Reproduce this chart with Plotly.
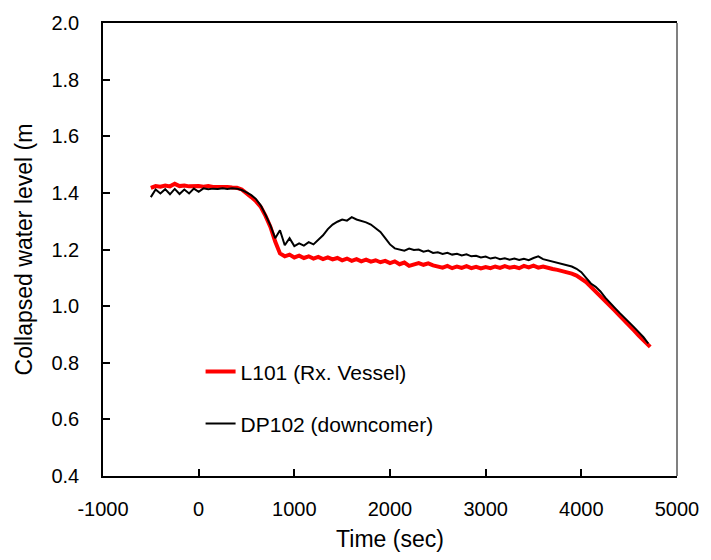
import plotly.graph_objects as go

time_sec = [-500, -450, -400, -350, -300, -250, -200, -150, -100, -50,
            0, 50, 100, 150, 200, 250, 300, 350, 400, 450,
            500, 550, 600, 650, 700, 750, 800, 850, 900, 950,
            1000, 1050, 1100, 1150, 1200, 1250, 1300, 1350, 1400, 1450,
            1500, 1550, 1600, 1650, 1700, 1750, 1800, 1850, 1900, 1950,
            2000, 2050, 2100, 2150, 2200, 2250, 2300, 2350, 2400, 2450,
            2500, 2550, 2600, 2650, 2700, 2750, 2800, 2850, 2900, 2950,
            3000, 3050, 3100, 3150, 3200, 3250, 3300, 3350, 3400, 3450,
            3500, 3550, 3600, 3650, 3700, 3750, 3800, 3850, 3900, 3950,
            4000, 4050, 4100, 4150, 4200, 4250, 4300, 4350, 4400, 4450,
            4500, 4550, 4600, 4650, 4700]

time_red = time_sec + [4720]

l101 = [1.418, 1.424, 1.422, 1.426, 1.423, 1.432, 1.424, 1.426, 1.423, 1.425,
        1.424, 1.422, 1.424, 1.421, 1.422, 1.420, 1.421, 1.419, 1.418, 1.412,
        1.400, 1.385, 1.370, 1.350, 1.318, 1.280, 1.228, 1.186, 1.176, 1.182,
        1.172, 1.178, 1.170, 1.176, 1.168, 1.174, 1.166, 1.172, 1.165, 1.170,
        1.162, 1.168, 1.160, 1.166, 1.158, 1.164, 1.157, 1.162, 1.155, 1.160,
        1.152, 1.158, 1.148, 1.154, 1.142, 1.148, 1.152, 1.146, 1.151, 1.144,
        1.140, 1.136, 1.142, 1.134, 1.140, 1.135, 1.141, 1.134, 1.139, 1.133,
        1.138, 1.134, 1.140, 1.135, 1.141, 1.136, 1.139, 1.134, 1.142, 1.137,
        1.143, 1.136, 1.140, 1.134, 1.131, 1.128, 1.124, 1.120, 1.115, 1.108,
        1.098, 1.085, 1.068, 1.052, 1.034, 1.018, 1.000, 0.984, 0.966, 0.950,
        0.932, 0.914, 0.896, 0.880, 0.864, 0.856]

dp102 = [1.385, 1.412, 1.398, 1.413, 1.395, 1.414, 1.396, 1.412, 1.398, 1.415,
         1.404, 1.416, 1.413, 1.415, 1.414, 1.416, 1.414, 1.416, 1.415, 1.410,
         1.402, 1.392, 1.378, 1.355, 1.322, 1.285, 1.240, 1.268, 1.215, 1.240,
         1.212, 1.222, 1.214, 1.226, 1.218, 1.235, 1.250, 1.272, 1.288, 1.298,
         1.306, 1.302, 1.314, 1.306, 1.302, 1.296, 1.288, 1.276, 1.262, 1.240,
         1.218, 1.204, 1.200, 1.196, 1.203, 1.198, 1.200, 1.192, 1.196, 1.188,
         1.190, 1.184, 1.188, 1.182, 1.185, 1.179, 1.183, 1.176, 1.178, 1.172,
         1.175, 1.168, 1.172, 1.166, 1.169, 1.164, 1.168, 1.163, 1.167, 1.162,
         1.170, 1.176, 1.166, 1.162, 1.158, 1.154, 1.150, 1.145, 1.140, 1.132,
         1.120, 1.100, 1.080, 1.068, 1.052, 1.030, 1.010, 0.994, 0.976, 0.960,
         0.942, 0.926, 0.908, 0.890, 0.868]

x_ticks = [-1000, 0, 1000, 2000, 3000, 4000, 5000]
y_ticks = [0.4, 0.6, 0.8, 1.0, 1.2, 1.4, 1.6, 1.8, 2.0]

FONT = "Liberation Sans, Arial, sans-serif"

fig = go.Figure()
fig.add_trace(go.Scatter(x=time_red, y=l101, mode="lines",
                         name="L101 (Rx. Vessel)",
                         line=dict(color="#ff0000", width=4),
                         legend="legend"))
fig.add_trace(go.Scatter(x=time_sec, y=dp102, mode="lines",
                         name="DP102 (downcomer)",
                         line=dict(color="#000000", width=2),
                         legend="legend2"))

leg_common = dict(font=dict(family=FONT, size=21, color="#000"),
                  bgcolor="rgba(0,0,0,0)", borderwidth=0,
                  xanchor="left", yanchor="middle")

fig.update_layout(
    width=711, height=560,
    margin=dict(l=103, r=29, t=15, b=84),
    paper_bgcolor="white", plot_bgcolor="white",
    font=dict(family=FONT, size=20, color="#000"),
    showlegend=True,
    legend=dict(x=0.170, y=0.230, **leg_common),
    legend2=dict(x=0.170, y=0.115, **leg_common),
    xaxis=dict(range=[-1000, 5000], tickvals=x_ticks,
               ticktext=[str(v) for v in x_ticks],
               ticks="inside", ticklen=7, tickwidth=1.5, tickcolor="#000",
               showline=True, linecolor="#000", linewidth=1.5, mirror=True,
               showgrid=False, zeroline=False, ticklabelstandoff=14,
               title=dict(text="Time (sec)", font=dict(size=23), standoff=12),
               tickfont=dict(size=20)),
    yaxis=dict(range=[0.4, 2.0], tickvals=y_ticks,
               ticktext=[f"{v:.1f}" for v in y_ticks],
               ticks="inside", ticklen=7, tickwidth=1.5, tickcolor="#000",
               showline=True, linecolor="#000", linewidth=1.5,
               showgrid=False, zeroline=False, ticklabelstandoff=18,
               title=dict(text="Collapsed water level (m", font=dict(size=23), standoff=12),
               tickfont=dict(size=20)),
    shapes=[dict(type="line", xref="paper", yref="paper", x0=1, x1=1, y0=0, y1=1,
                 line=dict(color="#808080", width=2))],
)

fig.write_html("out.html")
